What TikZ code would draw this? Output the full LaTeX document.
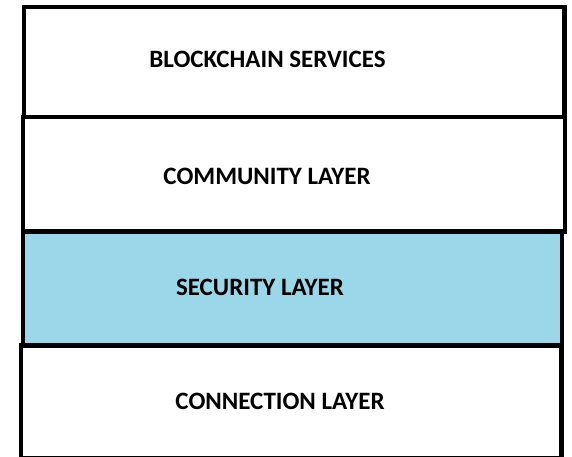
\documentclass[tikz,border=0pt]{standalone}
\usepackage{fontspec}
\setmainfont{Carlito}
\definecolor{secblue}{RGB}{154,216,233}
\begin{document}
\begin{tikzpicture}[x=1pt,y=-1pt,
  layerbox/.style={draw=black,line width=4.5pt},
  lbl/.style={font=\bfseries\fontsize{25}{28}\selectfont,inner sep=0pt,anchor=center}]
\useasboundingbox (0,0) rectangle (572,456);
\clip (0,0) rectangle (572,456);
\draw[layerbox,fill=white] (24,7) rectangle (564.5,117);
\draw[layerbox,fill=white] (23,117) rectangle (565,231.5);
\draw[layerbox,fill=secblue] (23,231.5) rectangle (562,345.5);
\draw[layerbox,fill=white] (21,345.5) rectangle (561.5,458.5);
\node[lbl] (bs) at (267.5,59.5) {BLOCKCHAIN SERVICES};
\node[lbl] (cm) at (267,176.5) {COMMUNITY LAYER};
\node[lbl] (sc) at (260,287.5) {SECURITY LAYER};
\node[lbl] (cn) at (280,401.5) {CONNECTION LAYER};
\end{tikzpicture}
\end{document}
